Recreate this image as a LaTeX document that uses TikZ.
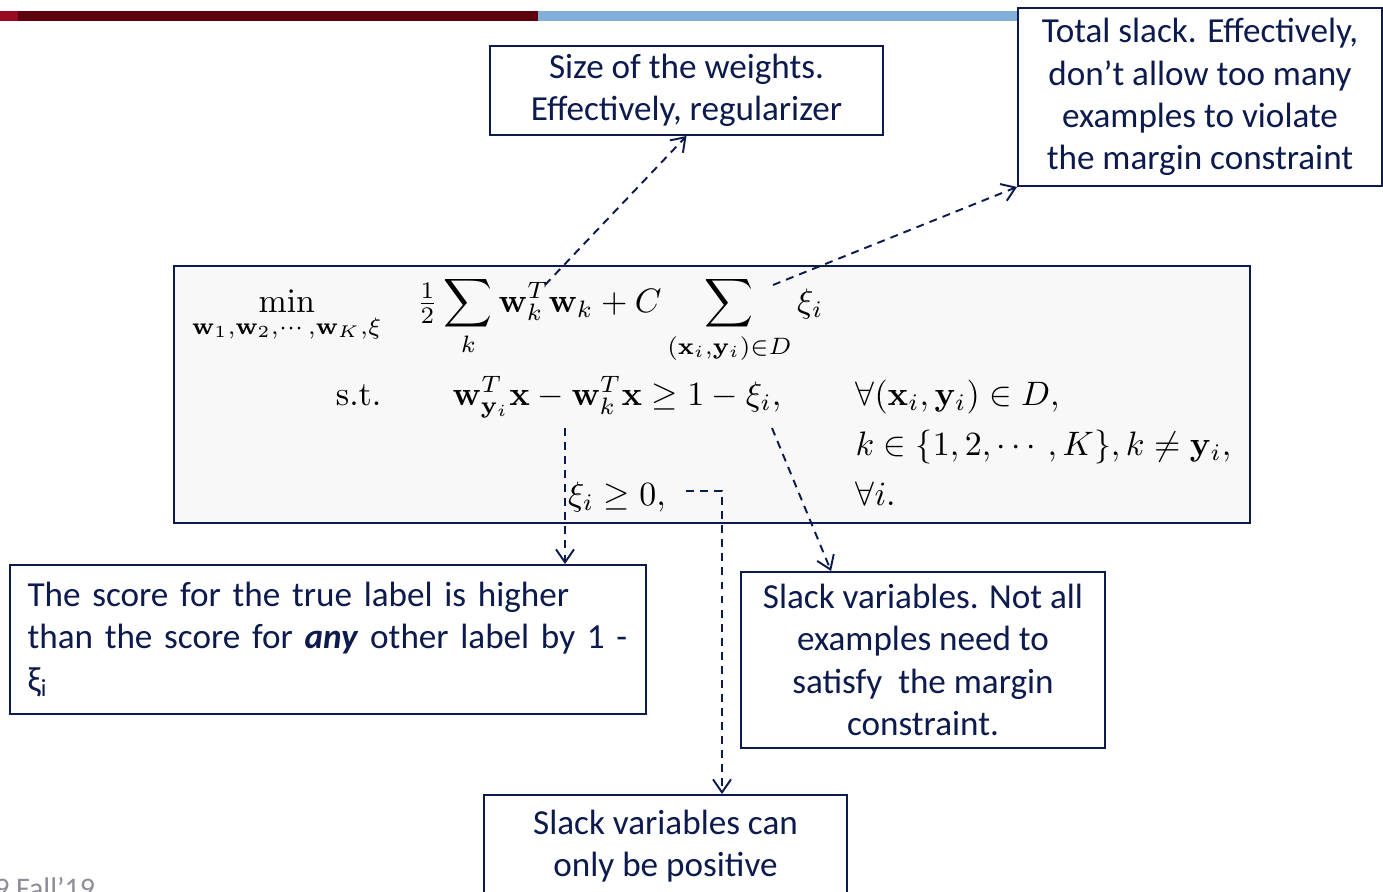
\documentclass[tikz,border=0pt]{standalone}
\usepackage{amsmath,amssymb}
\usepackage[no-math]{fontspec}
\setmainfont{Carlito}
\usepackage{xcolor}
\definecolor{SlideNavy}{HTML}{0C1A4E}
\definecolor{BoxGrey}{HTML}{F8F8F8}
\definecolor{BarRed}{HTML}{9A0A22}
\definecolor{BarMaroon}{HTML}{5C000E}
\definecolor{BarBlue}{HTML}{80AED6}
\definecolor{FootGrey}{HTML}{8E8E9A}
\usepackage{tikz}
\usetikzlibrary{arrows.meta, positioning, calc}
\tikzstyle{note} = [rectangle, draw=SlideNavy, fill=white, text=SlideNavy, line width=1.1pt, align=center, inner sep=0pt, font=\fontsize{20}{24}\selectfont]
\tikzstyle{formula} = [inner sep=0pt, font=\normalsize, scale=1.93, transform shape]
\tikzstyle{pointer} = [draw=SlideNavy, line width=1.1pt, dash pattern=on 4.5pt off 3.5pt, -{Straight Barb[length=2.6mm,width=3.6mm]}]

\begin{document}
\begin{tikzpicture}[x=0.02cm, y=-0.02cm]
        \clip (0,0) rectangle (1383,892);

        % --- header bar ---
        \fill [BarRed] (0,11) rectangle (18,21);
        \fill [BarMaroon] (18,11) rectangle (538,21);
        \fill [BarBlue] (538,11) rectangle (1017,21);

        % --- optimisation problem ---
        \node [rectangle, draw=SlideNavy, fill=BoxGrey, line width=1.1pt, minimum width=21.52cm, minimum height=5.14cm] (problem) at (712,394.5) {};
        \node [formula, anchor=base east] (minop) at (382,312) {$\displaystyle\min_{\mathbf{w}_1,\mathbf{w}_2,\cdots,\mathbf{w}_K,\xi}$};
        \node [formula, anchor=base] (objective) at (620,312) {$\displaystyle\tfrac{1}{2}\sum_k \mathbf{w}_k^T\mathbf{w}_k + C\sum_{(\mathbf{x}_i,\mathbf{y}_i)\in D}\xi_i$};
        \node [formula, anchor=base east] (st) at (382,405) {$\mathrm{s.t.}$};
        \node [formula, anchor=base] (margin) at (617,405) {$\mathbf{w}^T_{\mathbf{y}_i}\mathbf{x}-\mathbf{w}^T_k\mathbf{x}\geq 1-\xi_i,$};
        \node [formula, anchor=base west] (forallxy) at (855,405) {$\forall(\mathbf{x}_i,\mathbf{y}_i)\in D,$};
        \node [formula, anchor=base west] (kset) at (855,455) {$k\in\{1,2,\cdots,K\}, k\neq\mathbf{y}_i,$};
        \node [formula, anchor=base] (nonneg) at (617,505) {$\xi_i\geq 0,$};
        \node [formula, anchor=base west] (foralli) at (855,505) {$\forall i.$};

        % --- explanation boxes ---
        \node [note, minimum width=7.86cm, minimum height=1.78cm] (sizebox) at (686.5,90.5) {Size of the weights.\\Effectively, regularizer};
        \node [note, minimum width=7.28cm, minimum height=3.56cm] (totbox) at (1200,97) {Total slack. Effectively,\\don’t allow too many\\examples to violate\\the margin constraint};
        \node [note, align=left, inner xsep=0.35cm, text width=12.02cm, minimum height=2.98cm] (scorebox) at (328,639.5) {The score for the true label is higher\\than the score for \textbf{\textit{any}} other label by 1 -\\ξ\textsubscript{i}};
        \node [note, minimum width=7.28cm, minimum height=3.52cm] (notallbox) at (923,660) {Slack variables. Not all\\examples need to\\satisfy\ \ the margin\\constraint.};
        \node [note, minimum width=7.26cm, minimum height=2.04cm] (posbox) at (665.5,846) {Slack variables can\\only be positive};

        % footer
        \node [anchor=base west, inner sep=0pt, text=FootGrey, font=\fontsize{17}{20}\selectfont] (footer) at (-6,898) {9 Fall’19};

        % Connect formula to boxes
        \coordinate (regstart) at (545,285);
        \coordinate (slackstart) at (773,285);
        \coordinate (scorestart) at (565,428);
        \coordinate (violstart) at (772,428);
        \coordinate (posstart) at (686,491);

        \draw [pointer] (regstart) -- (sizebox.south);
        \draw [pointer] (slackstart) -- (totbox.south west);
        \draw [pointer] (scorestart) -- (scorestart |- scorebox.north);
        \draw [pointer] (violstart) -- ($(notallbox.north west)+(91,0)$);
        \draw [pointer] (posstart) -| ($(posbox.north)+(56.5,0)$);
    \end{tikzpicture}
\end{document}
